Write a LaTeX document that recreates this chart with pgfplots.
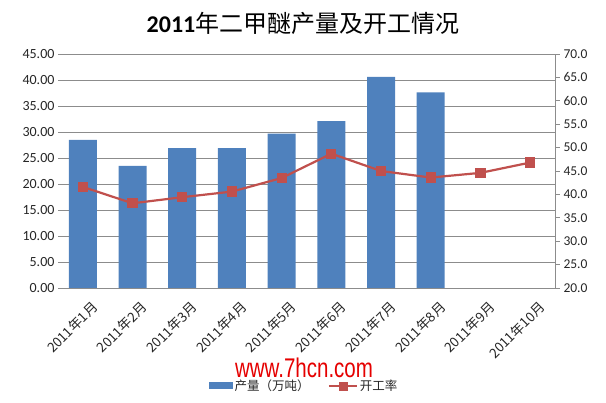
\documentclass[border=0pt]{standalone}
\usepackage{pgfplots}
\pgfplotsset{compat=1.18}
\usepackage{fontspec}
\setmainfont{Carlito}
\newfontfamily\cjk{Noto Sans CJK SC}
\newfontfamily\wm[FakeStretch=0.76]{Liberation Sans}
\definecolor{barblue}{HTML}{4F81BD}
\definecolor{linered}{HTML}{C0504D}
\definecolor{gridgray}{HTML}{8C8C8C}
\definecolor{txt}{HTML}{262626}
\begin{document}
\begin{tikzpicture}
\path[use as bounding box] (0pt,0pt) rectangle (606pt,403pt);
\node[font=\fontsize{24}{28}\selectfont, text=black] at (303pt,380pt) {\bfseries 2011{\cjk\mdseries 年二甲醚产量及开工情况}};
\begin{axis}[
  at={(58pt,115pt)}, anchor=south west,
  scale only axis, width=497pt, height=234pt,
  xmin=-0.5, xmax=9.5, ymin=0, ymax=45,
  ytick distance=5,
  xtick={0,...,9},
  xticklabels={2011年1月,2011年2月,2011年3月,2011年4月,2011年5月,2011年6月,2011年7月,2011年8月,2011年9月,2011年10月},
  x tick label style={rotate=45, anchor=north east, font=\cjk\fontsize{13.5}{15}\selectfont, text=txt, inner sep=1pt, yshift=-13pt, xshift=-2pt},
  y tick label style={font=\fontsize{14}{16}\selectfont, text=txt, /pgf/number format/.cd, fixed, fixed zerofill, precision=2, assume math mode=true},
  axis line style={draw=none},
  tick style={draw=none},
  ymajorgrids, grid style={gridgray, line width=0.8pt},
  legend style={at={(0.495,-0.418)}, anchor=center, draw=none, fill=none, legend columns=2,
    font=\cjk\fontsize{12.5}{14}\selectfont, text=txt,
    /tikz/every even column/.append style={column sep=16pt}},
]
\addplot[ybar, bar width=28pt, bar shift=0pt, fill=barblue, draw=none,
  legend image code/.code={\fill[barblue] (0pt,-3.5pt) rectangle (24pt,3.5pt);}]
  coordinates {(0,28.5) (1,23.5) (2,26.9) (3,26.9) (4,29.7) (5,32.1) (6,40.6) (7,37.6)};
\addlegendentry{产量（万吨）}
\addlegendimage{legend image code/.code={\draw[linered, line width=2.2pt] (0pt,0pt)--(28pt,0pt); \fill[linered] (10pt,-4pt) rectangle (18pt,4pt);}}
\addlegendentry{开工率}
\end{axis}
\begin{axis}[
  at={(58pt,115pt)}, anchor=south west,
  scale only axis, width=497pt, height=234pt,
  xmin=-0.5, xmax=9.5, ymin=20, ymax=70,
  ytick distance=5,
  axis x line=none,
  axis y line*=right,
  y axis line style={gridgray, line width=0.8pt, -},
  ytick style={gridgray, line width=0.8pt},
  tick align=outside, major tick length=5pt,
  y tick label style={font=\fontsize{13.5}{16}\selectfont, text=txt, /pgf/number format/.cd, fixed, fixed zerofill, precision=1, assume math mode=true},
]
\addplot[linered, line width=2.2pt, mark=square*, mark size=4pt, mark options={fill=linered, draw=linered}]
  coordinates {(0,41.6) (1,38.1) (2,39.4) (3,40.6) (4,43.5) (5,48.7) (6,45.0) (7,43.6) (8,44.6) (9,46.8)};
\end{axis}
\node[text=red!90!black, font=\wm\fontsize{27}{27}\selectfont, anchor=base, inner sep=0pt] at (304pt,25pt) {www.7hcn.com};
\end{tikzpicture}
\end{document}
